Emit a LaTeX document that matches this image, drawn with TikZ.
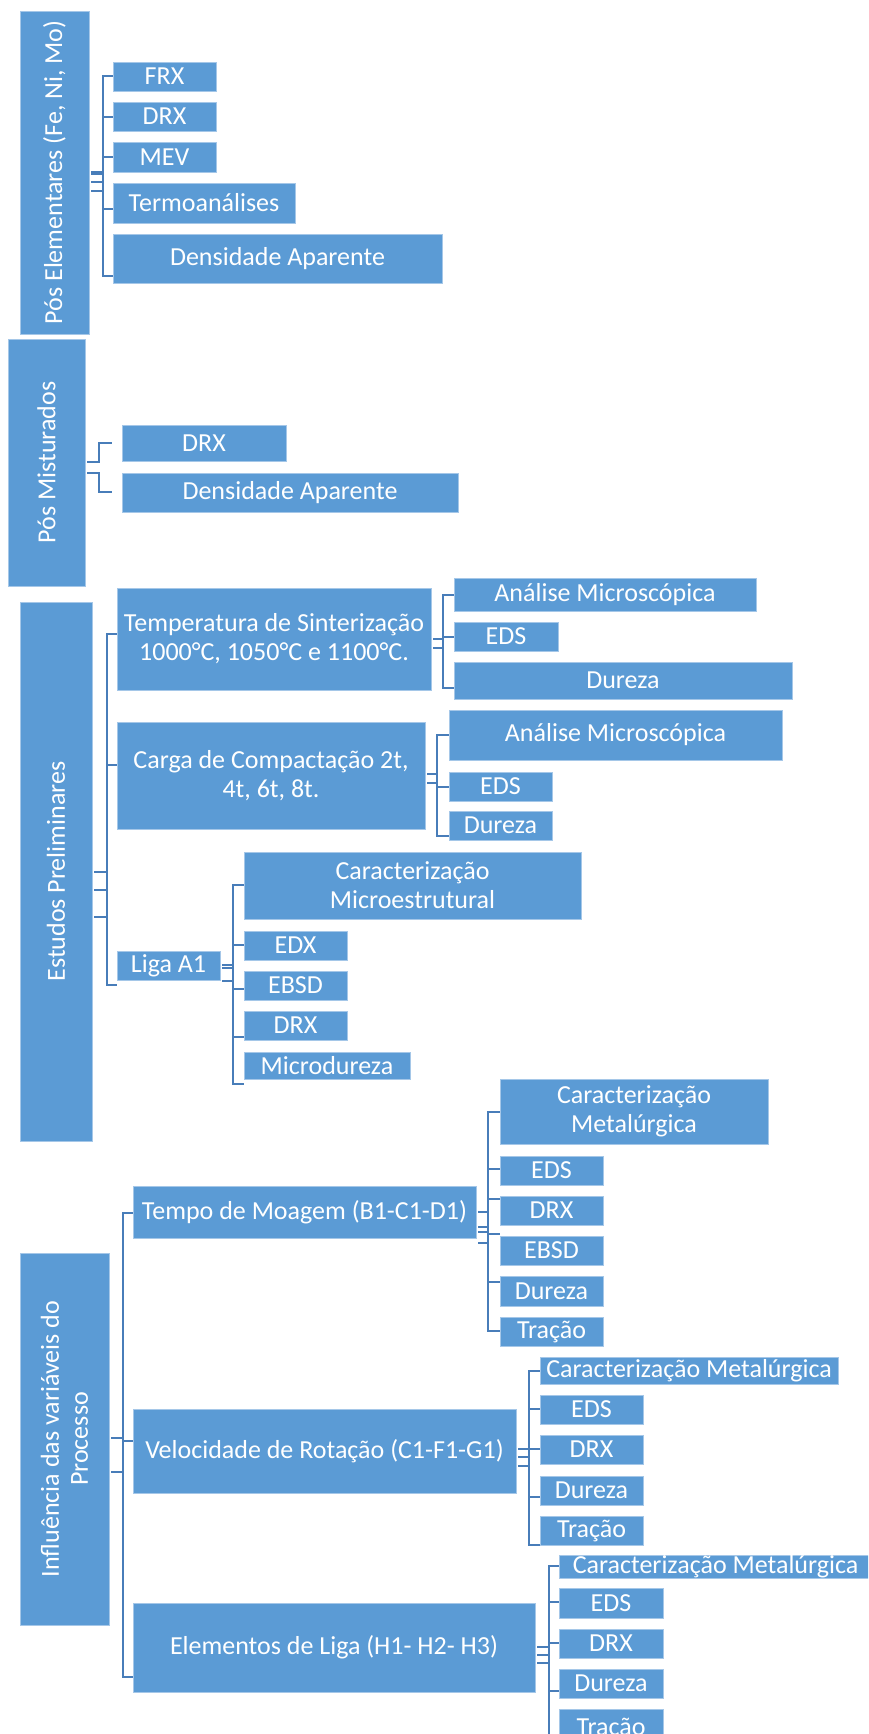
\documentclass[tikz,border=0pt]{standalone}
\usepackage{fontspec}
\setmainfont{Carlito}
\usepackage{graphicx}
\definecolor{boxfill}{RGB}{91,155,213}
\definecolor{boxline}{RGB}{165,199,232}
\definecolor{connc}{RGB}{72,125,185}
\tikzset{
  box/.style={rectangle, fill=boxfill, draw=boxline, line width=0.9pt, text=white, inner sep=0pt, align=center, font=\fontsize{26}{29}\selectfont},
  conn/.style={draw=connc, line width=2.2pt, shorten <=2pt},
  busline/.style={draw=connc, line width=2.2pt}
}
\newcommand\bx[6]{\node[box, minimum width={#4-#2}, minimum height={#5-#3}] (#1) at ({(#2+#4)/2},{(#3+#5)/2}) {#6};}
\newcommand\cn[5]{\draw[conn] (#1.east |- 0,#3) -- (#4,#3) -- (#4,#5) -- (#2.west |- 0,#5);}
\newcommand\bus[3]{\draw[busline] (#1,#2) -- (#1,#3);}
\begin{document}
\begin{tikzpicture}[x=1pt,y=-1pt]
\useasboundingbox (0,0) rectangle (868,1734);
\clip (0,0) rectangle (868,1734);
\fill[white] (0,0) rectangle (868,1734);
% Pós Elementares
\bx{A}{20}{11}{89}{334}{\rotatebox{90}{Pós Elementares (Fe, Ni, Mo)}}
\bx{a1}{113}{62}{216}{91}{FRX}
\bx{a2}{113}{102}{216}{131}{DRX}
\bx{a3}{113}{142}{216}{172}{MEV}
\bx{a4}{113}{183}{295}{223}{Termoanálises}
\bx{a5}{113}{234}{442}{283}{Densidade Aparente}
\bus{103}{76}{276}
\cn{A}{a1}{172}{103}{76}
\cn{A}{a2}{174}{103}{117}
\cn{A}{a3}{174}{103}{157}
\cn{A}{a4}{182}{103}{209}
\cn{A}{a5}{191}{103}{276}
% Pós Misturados
\bx{B}{8}{339}{85}{586}{\rotatebox{90}{Pós Misturados}}
\bx{b1}{122}{425}{286}{461}{DRX}
\bx{b2}{122}{473}{458}{512}{Densidade Aparente}
\draw[conn, shorten >=10pt] (B.east |- 0,462) -- (99,462) -- (99,443) -- (b1.west |- 0,443);
\draw[conn, shorten >=10pt] (B.east |- 0,473) -- (99,473) -- (99,492) -- (b2.west |- 0,492);
% Estudos Preliminares
\bx{C}{20}{602}{92}{1141}{\rotatebox{90}{Estudos Preliminares}}
\bx{c1}{117}{588}{431}{690}{Temperatura de Sinterização\\1000°C, 1050°C e 1100°C.}
\bx{c11}{454}{578}{756}{611}{Análise Microscópica}
\bx{c12}{454}{622}{558}{651}{EDS}
\bx{c13}{454}{662}{792}{699}{Dureza}
\bx{c2}{117}{722}{425}{829}{Carga de Compactação 2t,\\4t, 6t, 8t.}
\bx{c21}{449}{710}{782}{760}{Análise Microscópica}
\bx{c22}{449}{772}{552}{801}{EDS}
\bx{c23}{449}{811}{552}{840}{Dureza}
\bx{c3}{117}{951}{220}{980}{Liga A1}
\bx{c31}{244}{852}{581}{919}{Caracterização\\Microestrutural}
\bx{c32}{244}{931}{347}{960}{EDX}
\bx{c33}{244}{971}{347}{1000}{EBSD}
\bx{c34}{244}{1011}{347}{1040}{DRX}
\bx{c35}{244}{1052}{410}{1079}{Microdureza}
\bus{107}{634}{985}
\cn{C}{c1}{872}{107}{634}
\cn{C}{c2}{890}{107}{765}
\cn{C}{c3}{917}{107}{985}
\bus{443}{595}{688}
\cn{c1}{c11}{639}{443}{595}
\cn{c1}{c12}{639}{443}{637}
\cn{c1}{c13}{648}{443}{688}
\bus{437}{735}{836}
\cn{c2}{c21}{774}{437}{735}
\cn{c2}{c22}{774}{437}{787}
\cn{c2}{c23}{783}{437}{836}
\bus{233}{885}{1084}
\cn{c3}{c31}{965}{233}{885}
\cn{c3}{c32}{965}{233}{945}
\cn{c3}{c33}{968}{233}{989}
\cn{c3}{c34}{981}{233}{1037}
\cn{c3}{c35}{981}{233}{1084}
% Influência
\bx{D}{20}{1253}{109}{1625}{\rotatebox{90}{\parbox{320pt}{\centering Influência das variáveis do\\Processo}}}
\bx{d1}{133}{1186}{476}{1238}{Tempo de Moagem (B1-C1-D1)}
\bx{d11}{500}{1079}{768}{1144}{Caracterização\\Metalúrgica}
\bx{d12}{500}{1156}{603}{1185}{EDS}
\bx{d13}{500}{1196}{603}{1225}{DRX}
\bx{d14}{500}{1236}{603}{1265}{EBSD}
\bx{d15}{500}{1276}{603}{1306}{Dureza}
\bx{d16}{500}{1317}{603}{1346}{Tração}
\bx{d2}{133}{1409}{516}{1493}{Velocidade de Rotação (C1-F1-G1)}
\bx{d21}{540}{1357}{838}{1384}{Caracterização Metalúrgica}
\bx{d22}{540}{1395}{643}{1424}{EDS}
\bx{d23}{540}{1435}{643}{1464}{DRX}
\bx{d24}{540}{1476}{643}{1505}{Dureza}
\bx{d25}{540}{1516}{643}{1545}{Tração}
\bx{d3}{133}{1603}{535}{1692}{Elementos de Liga (H1- H2- H3)}
\bx{d31}{559}{1557}{872}{1577}{Caracterização Metalúrgica}
\bx{d32}{559}{1588}{663}{1618}{EDS}
\bx{d33}{559}{1629}{663}{1658}{DRX}
\bx{d34}{559}{1669}{663}{1698}{Dureza}
\bx{d35}{559}{1709}{663}{1748}{Tração}
\bus{123}{1213}{1677}
\cn{D}{d1}{1438}{123}{1213}
\cn{D}{d2}{1438}{123}{1441}
\cn{D}{d3}{1472}{123}{1677}
\bus{488}{1112}{1331}
\cn{d1}{d11}{1212}{488}{1112}
\cn{d1}{d12}{1212}{488}{1169}
\cn{d1}{d13}{1227}{488}{1199}
\cn{d1}{d14}{1232}{488}{1234}
\cn{d1}{d15}{1243}{488}{1282}
\cn{d1}{d16}{1243}{488}{1331}
\bus{529}{1371}{1545}
\cn{d2}{d21}{1449}{529}{1371}
\cn{d2}{d22}{1449}{529}{1409}
\cn{d2}{d23}{1449}{529}{1449}
\cn{d2}{d24}{1457}{529}{1497}
\cn{d2}{d25}{1466}{529}{1545}
\bus{549}{1566}{1740}
\cn{d3}{d31}{1647}{549}{1566}
\cn{d3}{d32}{1647}{549}{1602}
\cn{d3}{d33}{1647}{549}{1643}
\cn{d3}{d34}{1655}{549}{1691}
\cn{d3}{d35}{1663}{549}{1740}
\end{tikzpicture}
\end{document}
